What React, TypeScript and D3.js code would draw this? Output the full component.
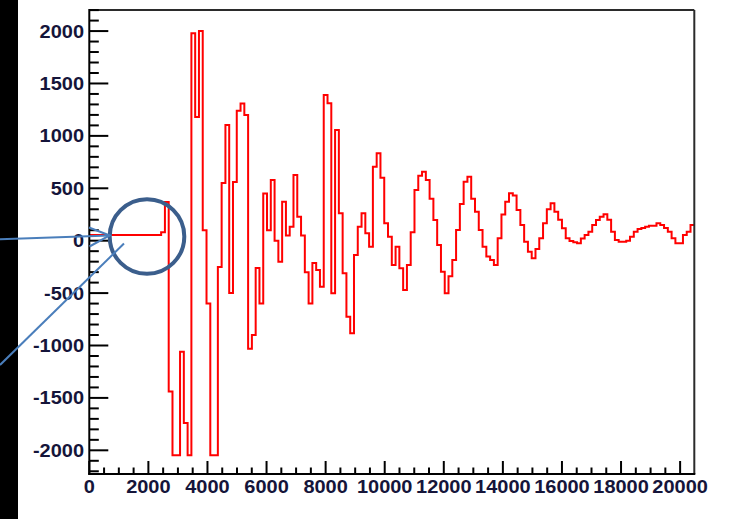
import React from "react";
import * as d3 from "d3";

// ---- data ----
const binWidth = 128;
const xMax = 20480;
const values: number[] = [
  // bins 0-19 (flat pedestal)
  55, 55, 55, 55, 55, 55, 55, 55, 55, 55,
  55, 55, 55, 55, 55, 55, 55, 55, 55, 80,
  // 20-39
  370, -1440, -2048, -2048, -1060, -1740, -2048, 1980, 1180, 2000,
  100, -600, -2048, -2048, -250, 550, 1104, -500, 560, 1240,
  // 40-59
  1310, 1200, -1030, -900, -260, -600, 450, 100, 580, 0,
  -200, 372, 50, 134, 627, 229, 50, -300, -600, -213,
  // 60-79
  -280, -440, 1390, 1311, -502, 1056, 261, -310, -725, -883,
  -136, 134, 261, 70, -57, 706, 834, 600, 166, 38,
  // 80-99
  -232, -57, -263, -470, -232, 80, 484, 620, 658, 580,
  400, 198, -40, -296, -502, -340, -184, 102, 350, 563,
  // 100-119
  611, 400, 277, 102, -57, -150, -184, -232, 23, 250,
  372, 452, 430, 293, 150, -10, -105, -168, -80, 23,
  // 120-139
  166, 300, 357, 277, 200, 118, 23, -3, -15, -25,
  20, 54, 86, 150, 198, 229, 252, 200, 86, 7,
  // 140-159
  -10, -10, 0, 38, 86, 112, 120, 134, 143, 143,
  166, 150, 120, 86, 23, -25, -25, 54, 86, 150,
];

const xMajorTicks = [0, 2000, 4000, 6000, 8000, 10000, 12000, 14000, 16000, 18000, 20000];
const yMajorTicks = [-2000, -1500, -1000, -500, 0, 500, 1000, 1500, 2000];

export default function App() {
  const W = 729;
  const H = 519;
  const left = 89.3, right = 694.3, top = 10, bottom = 474;
  const x = d3.scaleLinear().domain([0, xMax]).range([left, right]);
  const y = d3.scaleLinear().domain([-2226, 2201]).range([bottom, top]);

  const pts: [number, number][] = values.map((v, i) => [i * binWidth, v]);
  pts.push([xMax, values[values.length - 1]]);
  const line = d3
    .line<[number, number]>()
    .x((d) => x(d[0]))
    .y((d) => y(d[1]))
    .curve(d3.curveStepAfter);

  const xMinor = d3.range(0, xMax + 1, 500).filter((t) => t % 2000 !== 0);
  const yMinor = d3.range(-2200, 2201, 100).filter((t) => t % 500 !== 0 && y(t) <= bottom && y(t) >= top);

  const font = "'Liberation Sans', Arial, sans-serif";
  const labelColor = "#15153a";
  const sx = 1.11;

  // annotation geometry
  const cx = 147, cy = 236.5, r = 37.3;

  return (
    <svg
      width={W}
      height={H}
      style={{ position: "absolute", left: 0, top: 0 }}
      xmlns="http://www.w3.org/2000/svg"
    >
      <rect x={0} y={0} width={W} height={H} fill="#ffffff" />
      <rect x={0} y={0} width={18} height={H} fill="#000000" />

      {/* data */}
      <path d={line(pts) || ""} fill="none" stroke="#ff0000" strokeWidth={2} />

      {/* frame */}
      <line x1={left} y1={top} x2={right} y2={top} stroke="#2b2b2b" strokeWidth={2} />
      <line x1={right} y1={top} x2={right} y2={bottom} stroke="#2b2b2b" strokeWidth={2} />
      <line x1={left} y1={top - 1} x2={left} y2={bottom + 1} stroke="#000" strokeWidth={2} />
      <line x1={left - 1} y1={bottom} x2={right + 1} y2={bottom} stroke="#000" strokeWidth={2} />

      {/* y ticks */}
      {yMajorTicks.map((t) => (
        <line key={"ym" + t} x1={left} x2={left + 19} y1={y(t)} y2={y(t)} stroke="#000" strokeWidth={2} />
      ))}
      {yMinor.map((t) => (
        <line key={"yn" + t} x1={left} x2={left + 9.5} y1={y(t)} y2={y(t)} stroke="#000" strokeWidth={2} />
      ))}
      {/* x ticks */}
      {xMajorTicks.map((t) => (
        <line key={"xm" + t} x1={x(t)} x2={x(t)} y1={bottom} y2={bottom - 13} stroke="#000" strokeWidth={2} />
      ))}
      {xMinor.map((t) => (
        <line key={"xn" + t} x1={x(t)} x2={x(t)} y1={bottom} y2={bottom - 6.5} stroke="#000" strokeWidth={2} />
      ))}

      {/* y labels */}
      {yMajorTicks.map((t) => (
        <text
          key={"yl" + t}
          transform={`translate(84,${y(t) + 6.5}) scale(${sx},1)`}
          textAnchor="end"
          fontFamily={font}
          fontWeight="bold"
          fontSize={18}
          fill={labelColor}
        >
          {t < 0 ? "-" + Math.abs(t) : String(t)}
        </text>
      ))}
      {/* x labels */}
      {xMajorTicks.map((t) => (
        <text
          key={"xl" + t}
          transform={`translate(${x(t)},493) scale(${sx},1)`}
          textAnchor="middle"
          fontFamily={font}
          fontWeight="bold"
          fontSize={18}
          fill={labelColor}
        >
          {String(t)}
        </text>
      ))}

      {/* annotations */}
      <circle cx={cx} cy={cy} r={r} fill="none" stroke="#3b5e8c" strokeWidth={4} />
      <line x1={0} y1={239.3} x2={cx - r} y2={235.5} stroke="#4a7ebb" strokeWidth={2} />
      <polyline
        points={`89,227.5 ${cx - r},235.5 89.5,246.5`}
        fill="none"
        stroke="#4a7ebb"
        strokeWidth={2}
      />
      <line x1={0} y1={365} x2={124} y2={243.5} stroke="#4a7ebb" strokeWidth={2} />
    </svg>
  );
}
